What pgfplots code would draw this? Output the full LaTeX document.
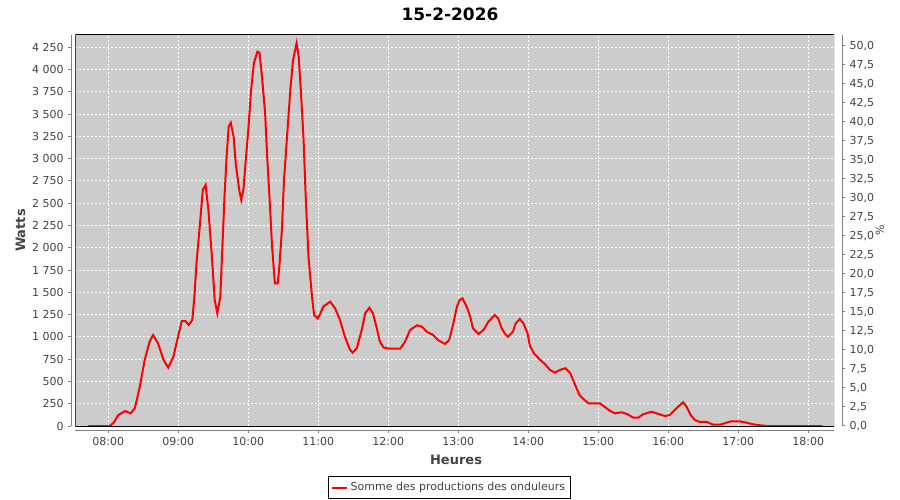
\documentclass[border=0pt]{standalone}
\usepackage{fontspec}
\setmainfont{DejaVu Sans}
\usepackage{pgfplots}
\pgfplotsset{compat=1.18}
\definecolor{plotbg}{RGB}{204,204,204}
\definecolor{ticklab}{RGB}{68,68,68}
\definecolor{axline}{RGB}{128,128,128}
\newcommand{\tickfont}{\fontsize{8.25pt}{9.5pt}\selectfont}
\newcommand{\labfont}{\fontsize{9.75pt}{11pt}\selectfont\bfseries}
\begin{document}
\begin{tikzpicture}
\path[use as bounding box] (0,0) rectangle (675pt,375pt);
\node[font=\fontsize{12.75pt}{14pt}\selectfont\bfseries] at (337.5pt,364.5pt) {15-2-2026};
\begin{axis}[
  at={(56.5pt,55.5pt)}, anchor=south west,
  scale only axis, width=569pt, height=293.25pt,
  xmin=7.529, xmax=18.367, ymin=0, ymax=4388,
  axis background/.style={fill=plotbg},
  axis x line*=bottom, axis y line*=left,
  axis x line shift=3pt, axis y line shift=3pt,
  axis line style={axline, line width=0.75pt},
  tick align=outside, major tick length=2.25pt,
  tick style={axline, line width=0.75pt},
  xtick={8,9,10,11,12,13,14,15,16,17,18},
  xticklabels={08:00,09:00,10:00,11:00,12:00,13:00,14:00,15:00,16:00,17:00,18:00},
  ytick={0,250,...,4250},
  grid=major,
  grid style={white, dash pattern=on 1.5pt off 1.5pt, line width=0.75pt},
  ticklabel style={font=\tickfont, text=ticklab},
  /pgf/number format/assume math mode=true,
  /pgf/number format/1000 sep={\ },
  xlabel={Heures}, ylabel={Watts},
  label style={font=\labfont, text=ticklab},
  xlabel style={at={(axis description cs:0.5018,-0.0857)}, anchor=center},
  ylabel style={at={(axis description cs:-0.0722,0.5)}, anchor=center},
  legend style={at={(axis description cs:0.4932,-0.1573)}, anchor=center,
    draw=black, line width=0.75pt, font=\tickfont, text=ticklab,
    inner sep=2pt},
  legend image code/.code={\draw[#1] (0pt,0pt) -- (11pt,0pt);},
]
\addplot[red, line width=1.5pt] table {
t W
7.714 0
8.02 0
8.08 40
8.143 123
8.24 168
8.32 142
8.38 200
8.45 441
8.52 741
8.59 946
8.64 1021
8.71 928
8.79 741
8.857 655
8.93 778
8.99 984
9.05 1178
9.10 1178
9.15 1134
9.20 1190
9.23 1451
9.26 1826
9.31 2275
9.35 2649
9.39 2705
9.43 2424
9.48 1900
9.52 1414
9.557 1265
9.60 1451
9.63 2012
9.66 2573
9.69 3022
9.72 3359
9.75 3404
9.79 3247
9.82 2948
9.87 2649
9.90 2536
9.93 2649
9.96 2948
10.00 3322
10.04 3771
10.08 4071
10.13 4201
10.16 4190
10.20 3883
10.24 3510
10.27 3022
10.31 2461
10.34 2012
10.38 1601
10.42 1601
10.44 1751
10.48 2200
10.51 2761
10.56 3322
10.60 3771
10.64 4108
10.69 4295
10.72 4145
10.75 3771
10.79 3210
10.82 2573
10.86 1900
10.91 1451
10.94 1246
10.99 1208
11.02 1246
11.07 1339
11.17 1395
11.24 1320
11.31 1190
11.38 1002
11.45 860
11.49 823
11.55 872
11.62 1077
11.67 1265
11.73 1328
11.78 1265
11.83 1115
11.88 946
11.93 883
12.00 868
12.17 868
12.24 946
12.31 1077
12.41 1130
12.48 1115
12.55 1058
12.64 1021
12.71 965
12.81 920
12.87 965
12.93 1152
12.98 1339
13.02 1414
13.06 1433
13.12 1339
13.17 1227
13.21 1096
13.29 1032
13.36 1077
13.43 1171
13.52 1246
13.57 1208
13.62 1096
13.67 1032
13.71 1002
13.78 1058
13.82 1152
13.88 1201
13.93 1152
13.99 1040
14.02 909
14.08 816
14.16 749
14.24 692
14.31 629
14.38 599
14.45 629
14.53 648
14.60 592
14.67 460
14.73 348
14.79 300
14.86 255
15.02 255
15.10 210
15.17 168
15.24 142
15.33 154
15.41 135
15.50 93
15.57 93
15.64 131
15.76 160
15.86 135
15.95 112
16.02 123
16.10 187
16.21 266
16.26 217
16.32 123
16.38 67
16.45 45
16.55 45
16.64 15
16.74 15
16.83 37
16.90 52
17.02 52
17.12 37
17.21 19
17.31 8
17.41 0
18.20 0
};
\addlegendentry{Somme des productions des onduleurs}
\draw[black, line width=0.75pt] (rel axis cs:0,0) rectangle (rel axis cs:1,1);
\end{axis}
\begin{axis}[
  at={(56.5pt,55.5pt)}, anchor=south west,
  scale only axis, width=569pt, height=293.25pt,
  xmin=7.529, xmax=18.367, ymin=0, ymax=51.41,
  axis x line=none, axis y line*=right,
  axis y line shift=6pt,
  axis line style={axline, line width=0.75pt},
  tick align=outside, major tick length=2.25pt,
  tick style={axline, line width=0.75pt},
  ytick={0,2.5,5,7.5,10,12.5,15,17.5,20,22.5,25,27.5,30,32.5,35,37.5,40,42.5,45,47.5,50},
  yticklabel style={/pgf/number format/.cd, fixed, fixed zerofill, precision=1, use comma},
  ticklabel style={font=\tickfont, text=ticklab},
  /pgf/number format/assume math mode=true,
  ylabel={\%},
  ylabel style={at={(axis description cs:1.0606,0.501)}, anchor=center, font=\tickfont, text=ticklab},
]
\addplot[draw=none] coordinates {(8,0)};
\end{axis}
\end{tikzpicture}
\end{document}
